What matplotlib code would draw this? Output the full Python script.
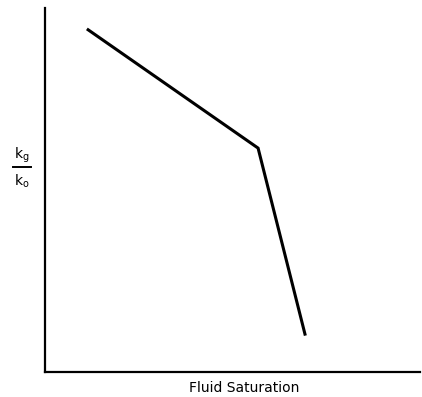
import matplotlib
matplotlib.use("Agg")
import matplotlib.pyplot as plt

# relative permeability ratio vs fluid saturation (schematic, normalised axes)
saturation = [0.115, 0.568, 0.693]
kg_ko = [0.94, 0.615, 0.104]

fig = plt.figure(figsize=(4.22, 3.97), dpi=100, facecolor="white")
ax = fig.add_axes([0.1066, 0.063, 0.889, 0.917])
ax.plot(saturation, kg_ko, color="black", lw=2.2, solid_joinstyle="miter")
ax.set_xlim(0, 1)
ax.set_ylim(0, 1)
for sp in ("top", "right"):
    ax.spines[sp].set_visible(False)
for sp in ("left", "bottom"):
    ax.spines[sp].set_linewidth(1.6)
ax.set_xticks([])
ax.set_yticks([])

fig.text(244 / 422, 1 - 388 / 397, "Fluid Saturation", ha="center", va="center",
         fontsize=10, family="DejaVu Sans")
fig.text(22 / 422, 1 - 155 / 397, r"k$_{\rm g}$", ha="center", va="center", fontsize=10)
fig.lines.append(plt.Line2D([13 / 422, 31 / 422], [1 - 167 / 397, 1 - 167 / 397],
                            color="black", lw=1.4, transform=fig.transFigure))
fig.text(22 / 422, 1 - 181 / 397, r"k$_{\rm o}$", ha="center", va="center", fontsize=10)

fig.savefig("out.png", dpi=100, facecolor="white")
